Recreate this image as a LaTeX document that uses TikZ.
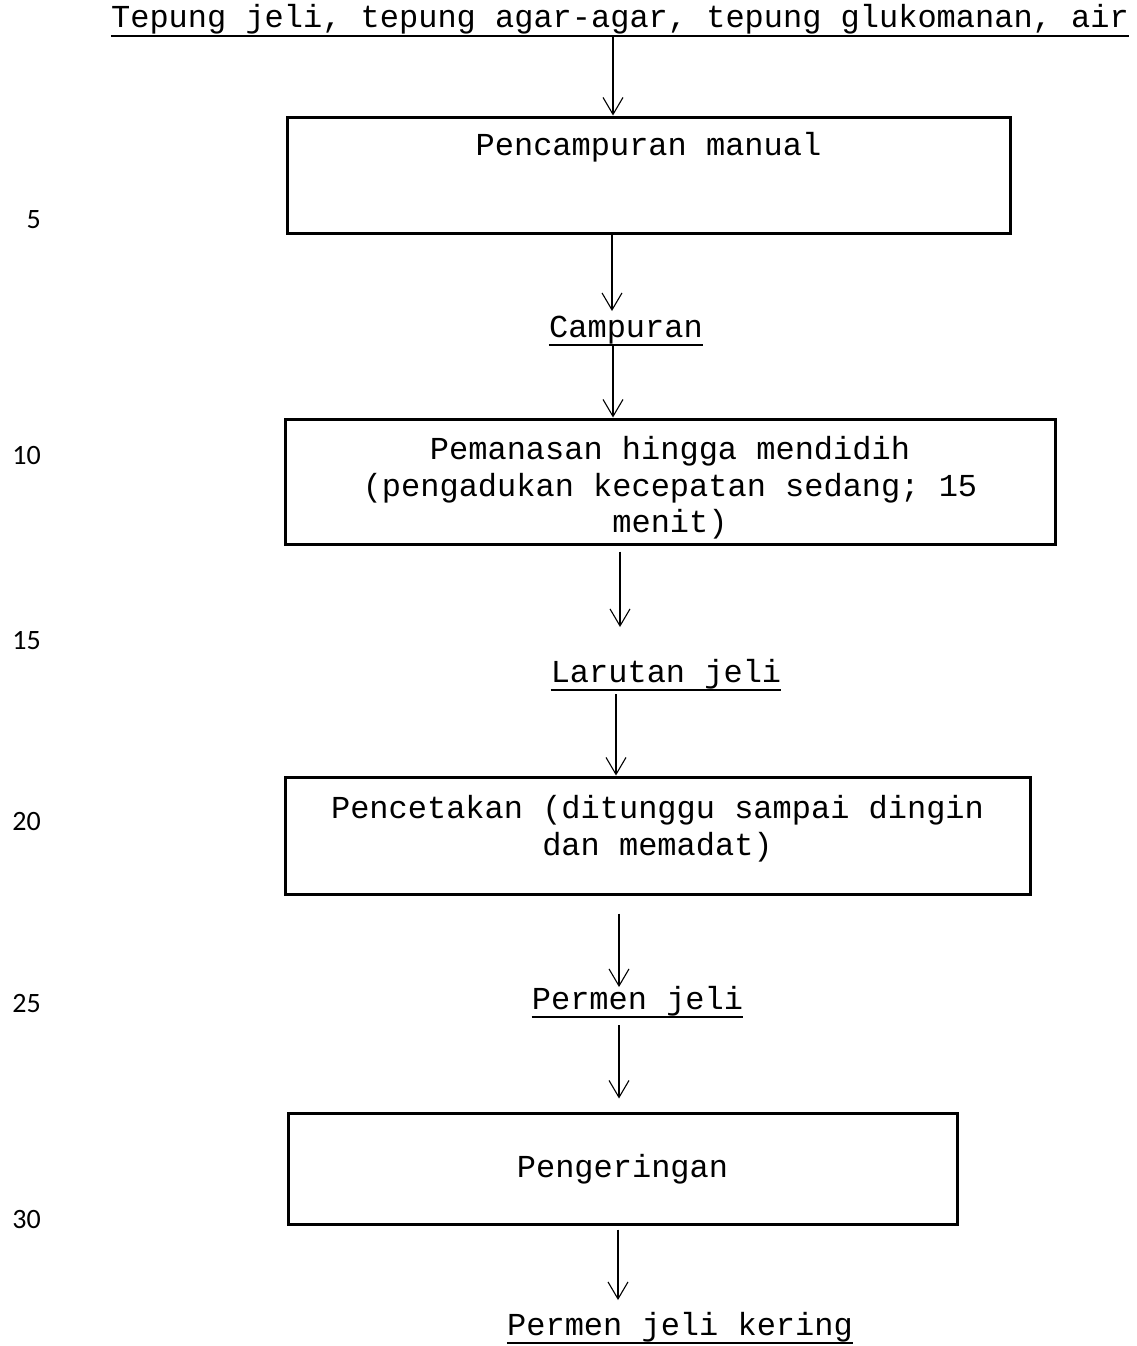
\documentclass[tikz,border=0pt]{standalone}
\usepackage{fontspec}
\setmainfont{Liberation Mono}
\newfontfamily\numfont{Carlito}
\usetikzlibrary{arrows.meta}
\frenchspacing
\begin{document}
\begin{tikzpicture}[x=1pt,y=-1pt,
  txt/.style={inner sep=0pt, anchor=base, font=\fontsize{32}{36.5}\selectfont},
  procbox/.style={draw, line width=3pt, inner sep=0pt},
  arr/.style={line width=1.1pt, -{Straight Barb[length=17pt,width=20pt,line width=1.1pt]}},
  uline/.style={line width=2.8pt},
  lnum/.style={inner sep=0pt, anchor=base east, font=\numfont\fontsize{28}{30}\selectfont}
]
\useasboundingbox (0,0) rectangle (1137,1346);

% boxes
\node[procbox, minimum width=723pt, minimum height=116pt] (b1) at (648.5,175) {};
\node[procbox, minimum width=770pt, minimum height=125pt] (b2) at (670,481.5) {};
\node[procbox, minimum width=745pt, minimum height=117pt] (b3) at (657.5,835.5) {};
\node[procbox, minimum width=669pt, minimum height=111pt] (b4) at (622.5,1168.5) {};

% box texts
\node[txt] (t1) at (648.5,155) {Pencampuran manual};
\node[txt] (t2a) at (670,459) {Pemanasan hingga mendidih};
\node[txt] (t2b) at (670,496) {(pengadukan kecepatan sedang; 15};
\node[txt] (t2c) at (670,532) {menit)};
\node[txt] (t3a) at (657.5,818) {Pencetakan (ditunggu sampai dingin};
\node[txt] (t3b) at (657.5,855) {dan memadat)};
\node[txt] (t4) at (622.5,1177) {Pengeringan};

% underlined labels
\node[txt] (lab0) at (620,28) {Tepung jeli, tepung agar-agar, tepung glukomanan, air};
\node[txt] (lab1) at (626,337) {Campuran};
\node[txt] (lab2) at (666,682) {Larutan jeli};
\node[txt] (lab3) at (637.5,1009) {Permen jeli};
\node[txt] (lab4) at (680,1335) {Permen jeli kering};
\foreach \n in {lab0,lab1,lab2,lab3,lab4}{
  \draw[uline] ([yshift=-8pt]\n.base west) -- ([yshift=-8pt]\n.base east);
}

% arrow x positions
\coordinate (x1) at (613,0);
\coordinate (x2) at (612,0);
\coordinate (x3) at (613,0);
\coordinate (x4) at (620,0);
\coordinate (x5) at (616,0);
\coordinate (x6) at (619,0);
\coordinate (x7) at (619,0);
\coordinate (x8) at (618,0);

\draw[arr, shorten <=9pt] (lab0.base -| x1) -- (b1.north -| x1);
\draw[arr, shorten >=26pt] (b1.south -| x2) -- (lab1.base -| x2);
\draw[arr, shorten <=8pt] (lab1.base -| x3) -- (b2.north -| x3);
\draw[arr, shorten <=6pt, shorten >=55pt] (b2.south -| x4) -- (lab2.base -| x4);
\draw[arr, shorten <=12pt] (lab2.base -| x5) -- (b3.north -| x5);
\draw[arr, shorten <=18pt, shorten >=22pt] (b3.south -| x6) -- (lab3.base -| x6);
\draw[arr, shorten <=16pt, shorten >=13pt] (lab3.base -| x7) -- (b4.north -| x7);
\draw[arr, shorten <=4pt, shorten >=35pt] (b4.south -| x8) -- (lab4.base -| x8);

% line numbers
\node[lnum] (n5) at (41,228) {5};
\node[lnum] (n10) at (41,464) {10};
\node[lnum] (n15) at (41,649) {15};
\node[lnum] (n20) at (41,830) {20};
\node[lnum] (n25) at (41,1012) {25};
\node[lnum] (n30) at (41,1228) {30};
\end{tikzpicture}
\end{document}
